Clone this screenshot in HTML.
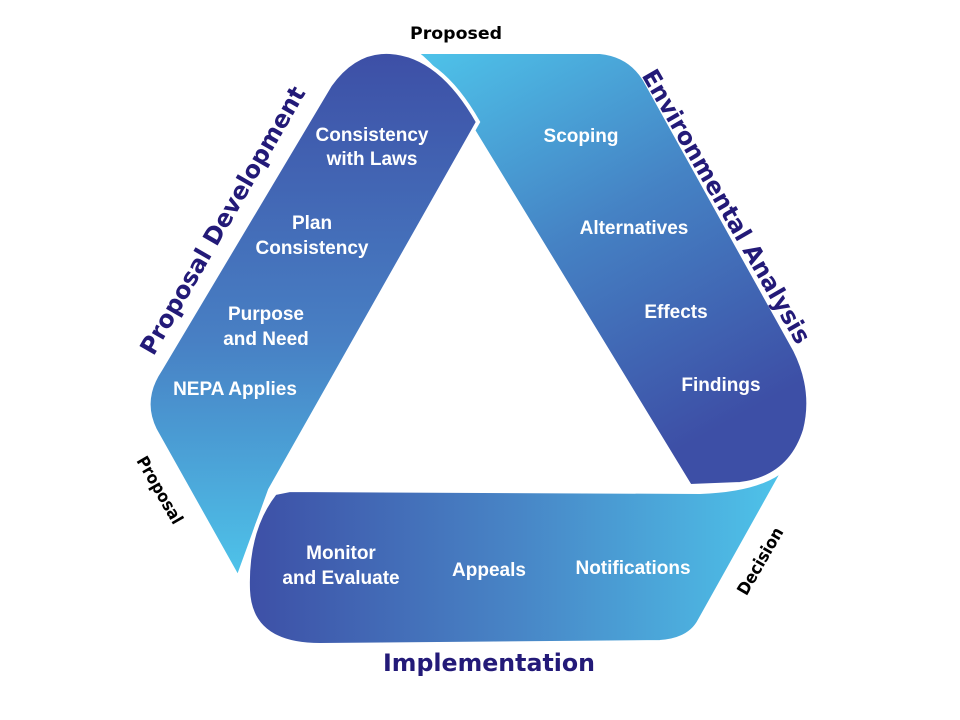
<!DOCTYPE html>
<html><head><meta charset="utf-8"><style>
html,body{margin:0;padding:0;background:#fff;}
svg{display:block}
.w{font-family:"Liberation Sans",sans-serif;font-weight:bold;fill:#fff;font-size:19px;text-anchor:middle}
.t{font-family:"DejaVu Sans","Liberation Sans",sans-serif;font-weight:bold;fill:#231a78;font-size:24px;text-anchor:middle}
.k{font-family:"DejaVu Sans","Liberation Sans",sans-serif;font-weight:bold;fill:#000;font-size:17px;text-anchor:middle}
</style></head><body>
<svg width="960" height="720" viewBox="0 0 960 720">
<defs>
<linearGradient id="gl" x1="0" y1="0" x2="0" y2="1"><stop offset="0" stop-color="#3d4fa6"/><stop offset="0.55" stop-color="#4880c4"/><stop offset="1" stop-color="#4ec4ea"/></linearGradient>
<linearGradient id="gr" x1="0" y1="0" x2="0.5" y2="1"><stop offset="0" stop-color="#4ec4ea"/><stop offset="0.5" stop-color="#4582c4"/><stop offset="1" stop-color="#3d4fa6"/></linearGradient>
<linearGradient id="gb" x1="0" y1="0" x2="1" y2="0"><stop offset="0" stop-color="#3d4fa6"/><stop offset="0.5" stop-color="#4885c6"/><stop offset="1" stop-color="#4ec4ea"/></linearGradient>
</defs>
<path d="M415,52 L600,52 Q630,55 645,80 L795,350 Q815,390 805,430 Q790,478 740,484 L690,486 L462,112 Q442,72 415,52 Z" fill="url(#gr)" stroke="#fff" stroke-width="4"/>
<path d="M238,578 L155,430 Q140,400 160,370 L330,85 Q355,50 390,52 Q440,55 478,122 L270,490 Z" fill="url(#gl)" stroke="#fff" stroke-width="4"/>
<path d="M290,490 L700,492 Q760,490 785,468 L700,620 Q690,640 660,642 L320,645 Q250,645 248,590 Q246,530 275,493 Z" fill="url(#gb)" stroke="#fff" stroke-width="4"/>

<text class="w" x="372" y="141">Consistency</text>
<text class="w" x="372" y="165">with Laws</text>
<text class="w" x="312" y="229">Plan</text>
<text class="w" x="312" y="254">Consistency</text>
<text class="w" x="266" y="320">Purpose</text>
<text class="w" x="266" y="345">and Need</text>
<text class="w" x="235" y="395">NEPA Applies</text>

<text class="w" x="581" y="142">Scoping</text>
<text class="w" x="634" y="234">Alternatives</text>
<text class="w" x="676" y="318">Effects</text>
<text class="w" x="721" y="391">Findings</text>

<text class="w" x="341" y="559">Monitor</text>
<text class="w" x="341" y="584">and Evaluate</text>
<text class="w" x="489" y="576">Appeals</text>
<text class="w" x="633" y="574">Notifications</text>

<text class="t" transform="translate(222,220) rotate(-60)" y="9" textLength="305" lengthAdjust="spacingAndGlyphs">Proposal Development</text>
<text class="t" transform="translate(727,206) rotate(60)" y="9" textLength="312" lengthAdjust="spacingAndGlyphs">Environmental Analysis</text>
<text class="t" x="489" y="671" textLength="212" lengthAdjust="spacingAndGlyphs">Implementation</text>
<text class="k" x="456" y="39" textLength="92" lengthAdjust="spacingAndGlyphs">Proposed</text>
<text class="k" transform="translate(160,490) rotate(60)" y="6" textLength="75" lengthAdjust="spacingAndGlyphs">Proposal</text>
<text class="k" transform="translate(760,561) rotate(-60)" y="6" textLength="75" lengthAdjust="spacingAndGlyphs">Decision</text>
</svg>
</body></html>
